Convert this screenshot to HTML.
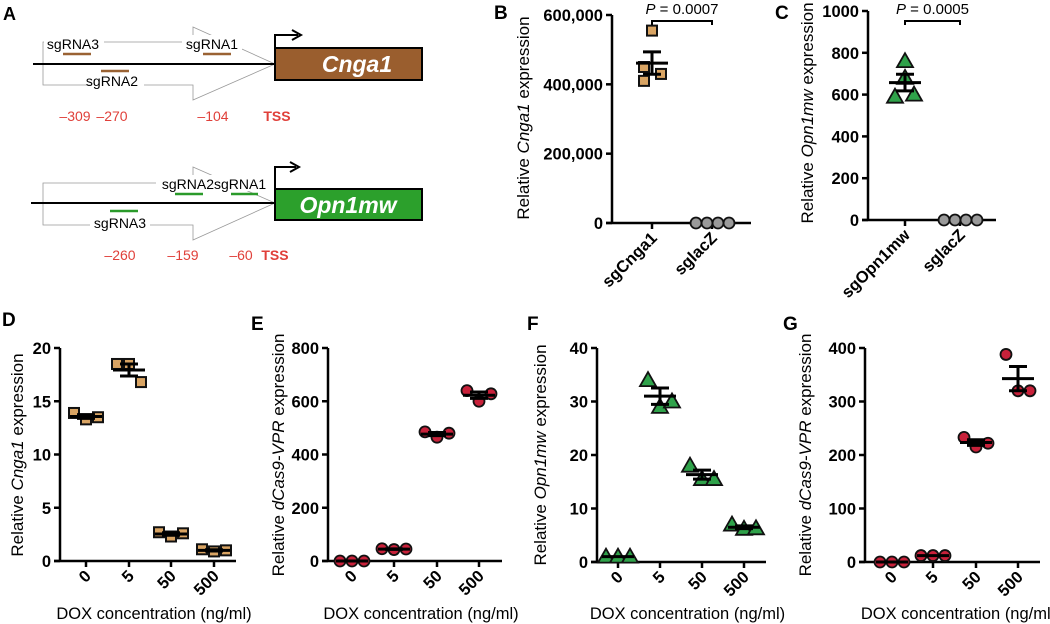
<!DOCTYPE html>
<html><head><meta charset="utf-8"><style>
html,body{margin:0;padding:0;background:#fff;}
svg{display:block;font-family:"Liberation Sans",Arial,sans-serif;}
</style></head><body>
<svg id="fig" width="1050" height="624" viewBox="0 0 1050 624">
<g>
<text x="3" y="20" font-size="18" font-weight="bold">A</text>
<path d="M43,42 H193 V27 L275,64 L193,100 V85 H43 Z" fill="none" stroke="#999" stroke-width="0.8"/>
<line x1="33" y1="64" x2="275" y2="64" stroke="#000" stroke-width="2"/>
<rect x="44" y="35" width="60" height="17" fill="#fff"/><rect x="92" y="73" width="52" height="16" fill="#fff"/><rect x="182" y="35" width="60" height="17" fill="#fff"/>
<text x="73" y="49" font-size="14" text-anchor="middle">sgRNA3</text>
<text x="212" y="49" font-size="14" text-anchor="middle">sgRNA1</text>
<text x="112" y="86" font-size="14" text-anchor="middle">sgRNA2</text>
<g stroke="#9a6233" stroke-width="2.5"><line x1="63" y1="54" x2="91" y2="54"/><line x1="101" y1="71" x2="129" y2="71"/><line x1="203" y1="54" x2="231" y2="54"/></g>
<rect x="275" y="48" width="147" height="32" fill="#9a5e2e" stroke="#000" stroke-width="2"/>
<text x="357" y="72" font-size="23" font-weight="bold" font-style="italic" fill="#fff" text-anchor="middle">Cnga1</text>
<path d="M275,48 V35 H298" fill="none" stroke="#000" stroke-width="2"/><path d="M292,30 L301,35 L292,40" fill="none" stroke="#000" stroke-width="2"/>
<g font-size="14" fill="#e0403a"><text x="75" y="121" text-anchor="middle">–309</text><text x="112" y="121" text-anchor="middle">–270</text><text x="213" y="121" text-anchor="middle">–104</text><text x="277" y="121" text-anchor="middle" font-weight="bold">TSS</text></g>

<path d="M43,183 H193 V167 L275,203 L193,240 V225 H43 Z" fill="none" stroke="#999" stroke-width="0.8"/>
<line x1="31" y1="203" x2="275" y2="203" stroke="#000" stroke-width="2"/>
<rect x="156" y="175" width="116" height="16" fill="#fff"/><rect x="90" y="214" width="60" height="16" fill="#fff"/>
<text x="214" y="189" font-size="14" text-anchor="middle">sgRNA2sgRNA1</text>
<text x="120" y="228" font-size="14" text-anchor="middle">sgRNA3</text>
<g stroke="#2a9a2a" stroke-width="2.5"><line x1="175" y1="194" x2="203" y2="194"/><line x1="231" y1="194" x2="258" y2="194"/><line x1="110" y1="211" x2="138" y2="211"/></g>
<rect x="275" y="189" width="147" height="31" fill="#2ca02c" stroke="#000" stroke-width="2"/>
<text x="348" y="213" font-size="23" font-weight="bold" font-style="italic" fill="#fff" text-anchor="middle">Opn1mw</text>
<path d="M275,189 V167 H296" fill="none" stroke="#000" stroke-width="2"/><path d="M290,162 L299,167 L290,172" fill="none" stroke="#000" stroke-width="2"/>
<g font-size="14" fill="#e0403a"><text x="120" y="260" text-anchor="middle">–260</text><text x="183" y="260" text-anchor="middle">–159</text><text x="241" y="260" text-anchor="middle">–60</text><text x="275" y="260" text-anchor="middle" font-weight="bold">TSS</text></g>
</g>
<g id="plots"></g>
</svg>
<script>
// Panel B
const bCats = ["sgCnga1", "sglacZ"];
const bTreat = [555000, 450000, 430000, 410000];
const bCtrl = [0, 0, 0, 0];
const bTicks = [0, 200000, 400000, 600000];
const bTickLabels = ["0", "200,000", "400,000", "600,000"];
// Panel C
const cCats = ["sgOpn1mw", "sglacZ"];
const cTreat = [760, 680, 590, 600];
const cCtrl = [0, 0, 0, 0];
const cTicks = [0, 200, 400, 600, 800, 1000];
// D-G
const doseCats = ["0", "5", "50", "500"];
const dVals = [[13.9, 13.3, 13.5], [18.5, 18.5, 16.8], [2.7, 2.3, 2.6], [1.1, 0.9, 1.0]];
const dTicks = [0, 5, 10, 15, 20];
const eVals = [[0, 0, 0], [46, 43, 45], [485, 465, 480], [640, 600, 628]];
const eTicks = [0, 200, 400, 600, 800];
const fVals = [[1, 1, 1], [34, 29, 30], [18, 15.5, 15.5], [7, 6.2, 6.3]];
const fTicks = [0, 10, 20, 30, 40];
const gVals = [[0, 0, 0], [12, 12, 12], [233, 215, 222], [388, 320, 320]];
const gTicks = [0, 100, 200, 300, 400];

const NS = "http://www.w3.org/2000/svg";
const root = document.getElementById("plots");
function el(tag, attrs, parent, text) {
  const e = document.createElementNS(NS, tag);
  for (const k in attrs) e.setAttribute(k, attrs[k]);
  if (text !== undefined) e.textContent = text;
  (parent || root).appendChild(e);
  return e;
}
function marker(g, shape, x, y, fill) {
  let m;
  if (shape === "sq") m = el("rect", {x: x - 5, y: y - 5, width: 10, height: 10, fill: fill, stroke: "#111", "stroke-width": 2}, g);
  else if (shape === "tri") m = el("path", {d: `M${x},${y-8} L${x+8},${y+6} L${x-8},${y+6} Z`, fill: fill, stroke: "#111", "stroke-width": 1.8}, g);
  else m = el("circle", {cx: x, cy: y, r: 5.5, fill: fill, stroke: "#111", "stroke-width": 1.8}, g);
  
  
}
function meanSem(v) {
  const n = v.length, m = v.reduce((a, b) => a + b, 0) / n;
  const sd = Math.sqrt(v.reduce((a, b) => a + (b - m) * (b - m), 0) / (n - 1));
  return [m, sd / Math.sqrt(n)];
}
function panel(o) {
  const g = el("g", {});
  
  
  const ys = v => o.y0 + (v - o.tmin) / (o.tmax - o.tmin) * (o.y1 - o.y0);
  const ax = el("line", {x1: o.ax, y1: o.y1, x2: o.ax, y2: o.y0, stroke: "#000", "stroke-width": 2.5}, g);
  
  const xa = el("line", {x1: o.ax - 6, y1: o.y0, x2: o.axEnd, y2: o.y0, stroke: "#000", "stroke-width": 2.5}, g);
  
  o.ticks.forEach((t, i) => {
    const y = ys(t);
    el("line", {x1: o.ax - 6, y1: y, x2: o.ax, y2: y, stroke: "#000", "stroke-width": 2.5}, g);
    const tl = el("text", {x: o.ax - 9, y: y + 6, "font-size": 16.5, "font-weight": "bold", "text-anchor": "end"}, g, o.tickLabels ? o.tickLabels[i] : String(t));
    
  });
  o.cats.forEach((c, i) => {
    const x = o.xs[i];
    el("line", {x1: x, y1: o.y0, x2: x, y2: o.y0 + 6, stroke: "#000", "stroke-width": 2.5}, g);
    const tl = el("text", {x: x + 6, y: o.y0 + 16, "font-size": 16.5, "font-weight": "bold", "text-anchor": "end", transform: `rotate(-45 ${x+6} ${o.y0+16})`}, g, c);
    
  });
  const yt = el("text", {x: 0, y: 0, "font-size": 17, "text-anchor": "middle", transform: `translate(${o.titleX},${o.titleY}) rotate(-90)`}, g);
  
  el("tspan", {}, yt, "Relative ");
  el("tspan", {"font-style": "italic"}, yt, o.gene);
  el("tspan", {}, yt, " expression");
  if (o.xtitle) {
    const xt = el("text", {x: (o.ax + o.axEnd) / 2 + 6, y: 619, "font-size": 16.5, "text-anchor": "middle"}, g, "DOX concentration (ng/ml)");
    
  }
  const lab = el("text", {x: o.lx, y: o.ly, "font-size": 19, "font-weight": "bold"}, g, o.letter);
  
  o.groups.forEach((vals, i) => {
    const x = o.xs[i];
    const n = vals.length;
    const sp = o.spreads ? o.spreads[i] : null;
    vals.forEach((v, j) => {
      const dx = sp ? sp[j] : (j - (n - 1) / 2) * 12;
      marker(g, o.shapes[i], x + dx, ys(v), o.fills[i]);
    });
    const [m, s] = meanSem(vals);
    if (o.noBar && o.noBar[i]) return;
    el("line", {x1: x - 16, y1: ys(m), x2: x + 16, y2: ys(m), stroke: "#000", "stroke-width": 3}, g);
    if (s > 0) {
      el("line", {x1: x, y1: ys(m + s), x2: x, y2: ys(m - s), stroke: "#000", "stroke-width": 3}, g);
      el("line", {x1: x - 9, y1: ys(m + s), x2: x + 9, y2: ys(m + s), stroke: "#000", "stroke-width": 3}, g);
      el("line", {x1: x - 9, y1: ys(m - s), x2: x + 9, y2: ys(m - s), stroke: "#000", "stroke-width": 3}, g);
    }
  });
  if (o.p) {
    el("path", {d: `M${o.xs[0]},25 V21 H${o.xs[1]} V25`, fill: "none", stroke: "#000", "stroke-width": 2}, g);
    const pt = el("text", {x: (o.xs[0] + o.xs[1]) / 2, y: 14, "font-size": 15, "text-anchor": "middle"}, g);
    
    el("tspan", {"font-style": "italic"}, pt, "P");
    el("tspan", {}, pt, " = " + o.p);
  }
}
const ctrlSpread = [-16, -5, 6, 17];
panel({name: "panel-b", letter: "B", lx: 494, ly: 19, ax: 612, axEnd: 751, y0: 223, y1: 15, tmin: 0, tmax: 600000,
  ticks: bTicks, tickLabels: bTickLabels, cats: bCats, xs: [652, 712], groups: [bTreat, bCtrl],
  shapes: ["sq", "circ"], fills: ["#d9a463", "#9a9a9a"], spreads: [[0, -8, 9, -8], ctrlSpread],
  noBar: [false, true], gene: "Cnga1", titleX: 529, titleY: 118, p: "0.0007"});
panel({name: "panel-c", letter: "C", lx: 775, ly: 19, ax: 868, axEnd: 996, y0: 220, y1: 11, tmin: 0, tmax: 1000,
  ticks: cTicks, cats: cCats, xs: [905, 960], groups: [cTreat, cCtrl],
  shapes: ["tri", "circ"], fills: ["#2fa24a", "#9a9a9a"], spreads: [[0, 0, -10, 9], ctrlSpread],
  noBar: [false, true], gene: "Opn1mw", titleX: 813, titleY: 113, p: "0.0005"});
panel({name: "panel-d", letter: "D", lx: 2, ly: 326, ax: 60, axEnd: 236, y0: 561, y1: 348, tmin: 0, tmax: 20,
  ticks: dTicks, cats: doseCats, xs: [86, 129, 171, 214], groups: dVals,
  shapes: ["sq", "sq", "sq", "sq"], fills: Array(4).fill("#d9a463"), gene: "Cnga1", titleX: 23, titleY: 455, xtitle: true});
panel({name: "panel-e", letter: "E", lx: 251, ly: 330, ax: 328, axEnd: 502, y0: 561, y1: 348, tmin: 0, tmax: 800,
  ticks: eTicks, cats: doseCats, xs: [352, 394, 437, 479], groups: eVals,
  shapes: Array(4).fill("circ"), fills: Array(4).fill("#c8213a"), gene: "dCas9-VPR", titleX: 284, titleY: 455, xtitle: true});
panel({name: "panel-f", letter: "F", lx: 527, ly: 330, ax: 597, axEnd: 766, y0: 562, y1: 348, tmin: 0, tmax: 40,
  ticks: fTicks, cats: doseCats, xs: [618, 660, 702, 744], groups: fVals,
  shapes: Array(4).fill("tri"), fills: Array(4).fill("#2fa24a"), gene: "Opn1mw", titleX: 546, titleY: 455, xtitle: true});
panel({name: "panel-g", letter: "G", lx: 783, ly: 330, ax: 865, axEnd: 1040, y0: 562, y1: 348, tmin: 0, tmax: 400,
  ticks: gTicks, cats: doseCats, xs: [892, 933, 976, 1018], groups: gVals,
  shapes: Array(4).fill("circ"), fills: Array(4).fill("#c8213a"), gene: "dCas9-VPR", titleX: 811, titleY: 455, xtitle: true});
</script>
</body></html>
